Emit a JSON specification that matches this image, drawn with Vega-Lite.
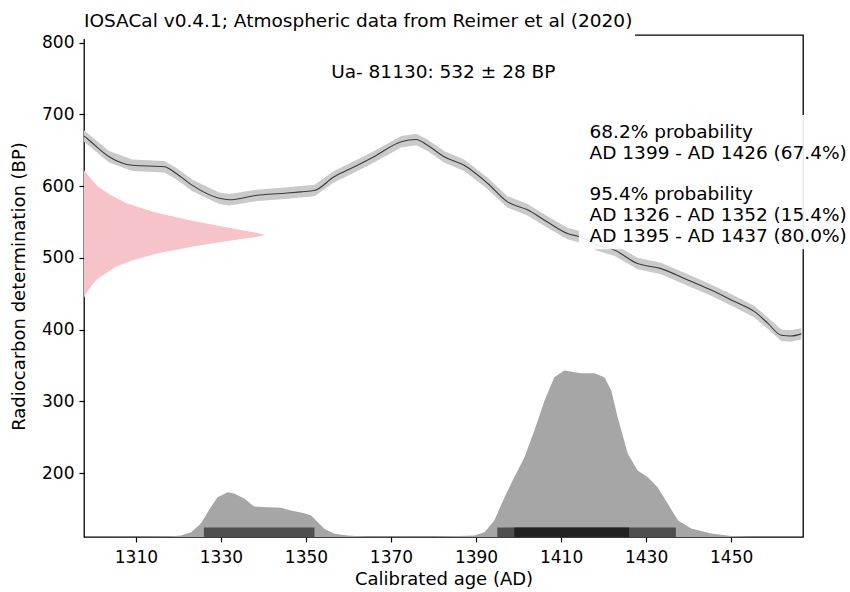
{
  "$schema": "https://vega.github.io/schema/vega-lite/v6.json",
  "width": 719,
  "height": 502,
  "autosize": {"type": "none"},
  "padding": {"left": 84, "top": 35, "right": 47, "bottom": 55},
  "background": "white",
  "config": {
    "view": {"stroke": "#000000", "strokeWidth": 1.3},
    "font": "DejaVu Sans",
    "axis": {
      "labelFont": "DejaVu Sans", "labelFontSize": 17, "labelColor": "#000000",
      "tickColor": "#000000", "tickSize": 5, "tickWidth": 1.2, "domain": false, "grid": false,
      "titleFont": "DejaVu Sans", "titleFontSize": 18, "titleFontWeight": "normal", "titleColor": "#000000"
    }
  },
  "datasets": {
    "curve": [
      {"year": 1297.8, "bp": 670, "lo": 662, "hi": 678},
      {"year": 1299, "bp": 664, "lo": 656, "hi": 672},
      {"year": 1303.7, "bp": 641, "lo": 633, "hi": 649},
      {"year": 1309.2, "bp": 629, "lo": 621, "hi": 637},
      {"year": 1316.7, "bp": 627, "lo": 619, "hi": 635},
      {"year": 1319.4, "bp": 618, "lo": 610, "hi": 626},
      {"year": 1323.3, "bp": 601, "lo": 593, "hi": 609},
      {"year": 1329.6, "bp": 583, "lo": 575, "hi": 591},
      {"year": 1332, "bp": 581, "lo": 573, "hi": 589},
      {"year": 1338.2, "bp": 587, "lo": 579, "hi": 595},
      {"year": 1345, "bp": 590, "lo": 582, "hi": 598},
      {"year": 1348.8, "bp": 592, "lo": 584, "hi": 600},
      {"year": 1352, "bp": 594, "lo": 586, "hi": 602},
      {"year": 1356.6, "bp": 613, "lo": 605, "hi": 621},
      {"year": 1361.4, "bp": 627, "lo": 619, "hi": 635},
      {"year": 1366, "bp": 641, "lo": 633, "hi": 649},
      {"year": 1372.4, "bp": 662, "lo": 654, "hi": 670},
      {"year": 1375.9, "bp": 665, "lo": 657, "hi": 673},
      {"year": 1378.6, "bp": 657, "lo": 649, "hi": 665},
      {"year": 1382.5, "bp": 641, "lo": 633, "hi": 649},
      {"year": 1387.2, "bp": 629, "lo": 621, "hi": 637},
      {"year": 1392.7, "bp": 604, "lo": 596, "hi": 612},
      {"year": 1397.4, "bp": 578, "lo": 570, "hi": 586},
      {"year": 1402.1, "bp": 567, "lo": 559, "hi": 575},
      {"year": 1406.8, "bp": 550, "lo": 542, "hi": 558},
      {"year": 1411.5, "bp": 534, "lo": 526, "hi": 542},
      {"year": 1414.6, "bp": 529, "lo": 521, "hi": 537},
      {"year": 1418.5, "bp": 518, "lo": 510, "hi": 526},
      {"year": 1422.5, "bp": 511, "lo": 503, "hi": 519},
      {"year": 1428, "bp": 492, "lo": 484, "hi": 500},
      {"year": 1433.5, "bp": 485, "lo": 477, "hi": 493},
      {"year": 1439.8, "bp": 469, "lo": 461, "hi": 477},
      {"year": 1445.3, "bp": 455, "lo": 447, "hi": 463},
      {"year": 1450.8, "bp": 439, "lo": 431, "hi": 447},
      {"year": 1455.5, "bp": 425, "lo": 417, "hi": 433},
      {"year": 1458.6, "bp": 409, "lo": 401, "hi": 417},
      {"year": 1461.8, "bp": 392, "lo": 384, "hi": 400},
      {"year": 1464, "bp": 391, "lo": 383, "hi": 399},
      {"year": 1466.5, "bp": 394, "lo": 386, "hi": 402}
    ],
    "measured": [
      {"bp": 444, "density": 0},
      {"bp": 450, "density": 0.011},
      {"bp": 460, "density": 0.039},
      {"bp": 469, "density": 0.067},
      {"bp": 478, "density": 0.117},
      {"bp": 488, "density": 0.179},
      {"bp": 497, "density": 0.274},
      {"bp": 506, "density": 0.402},
      {"bp": 516, "density": 0.609},
      {"bp": 525, "density": 0.83},
      {"bp": 529, "density": 0.95},
      {"bp": 532, "density": 1.0},
      {"bp": 535, "density": 0.95},
      {"bp": 543, "density": 0.777},
      {"bp": 553, "density": 0.57},
      {"bp": 564, "density": 0.385},
      {"bp": 576, "density": 0.235},
      {"bp": 588, "density": 0.145},
      {"bp": 599, "density": 0.078},
      {"bp": 610, "density": 0.039},
      {"bp": 622, "density": 0}
    ],
    "calibrated": [
      {"year": 1297.8, "p": 0},
      {"year": 1310, "p": 0},
      {"year": 1318, "p": 0.003},
      {"year": 1320.6, "p": 0.009},
      {"year": 1323, "p": 0.029},
      {"year": 1325.3, "p": 0.081},
      {"year": 1327.6, "p": 0.179},
      {"year": 1329.2, "p": 0.239},
      {"year": 1331.6, "p": 0.269},
      {"year": 1333.1, "p": 0.261},
      {"year": 1335.5, "p": 0.231},
      {"year": 1337.8, "p": 0.183},
      {"year": 1341, "p": 0.179},
      {"year": 1344.1, "p": 0.175},
      {"year": 1346.5, "p": 0.159},
      {"year": 1349.6, "p": 0.143},
      {"year": 1351.2, "p": 0.129},
      {"year": 1352.8, "p": 0.089},
      {"year": 1354.3, "p": 0.049},
      {"year": 1356.7, "p": 0.019},
      {"year": 1359.8, "p": 0.009},
      {"year": 1365, "p": 0.002},
      {"year": 1380, "p": 0.001},
      {"year": 1389.6, "p": 0.009},
      {"year": 1392, "p": 0.029},
      {"year": 1394.3, "p": 0.099},
      {"year": 1396.7, "p": 0.239},
      {"year": 1399, "p": 0.359},
      {"year": 1401.4, "p": 0.479},
      {"year": 1403.7, "p": 0.638},
      {"year": 1406.1, "p": 0.819},
      {"year": 1408.4, "p": 0.959},
      {"year": 1410.8, "p": 1.0},
      {"year": 1414.7, "p": 0.984},
      {"year": 1417.8, "p": 0.984},
      {"year": 1420.2, "p": 0.959},
      {"year": 1421.8, "p": 0.88},
      {"year": 1423.3, "p": 0.719},
      {"year": 1425.7, "p": 0.5},
      {"year": 1428, "p": 0.399},
      {"year": 1430.4, "p": 0.359},
      {"year": 1432.7, "p": 0.299},
      {"year": 1435.1, "p": 0.199},
      {"year": 1437.5, "p": 0.099},
      {"year": 1440.6, "p": 0.051},
      {"year": 1445.3, "p": 0.021},
      {"year": 1450, "p": 0.006},
      {"year": 1455, "p": 0},
      {"year": 1466.9, "p": 0}
    ],
    "ranges": [
      {"start": 1326, "end": 1352, "level": "95.4%"},
      {"start": 1395, "end": 1437, "level": "95.4%"},
      {"start": 1399, "end": 1426, "level": "68.2%"}
    ]
  },
  "resolve": {"scale": {"x": "independent", "y": "independent"}},
  "layer": [
    {
      "data": {"name": "measured"},
      "mark": {"type": "area", "orient": "horizontal", "color": "#f6c3c9", "opacity": 1},
      "encoding": {
        "y": {"field": "bp", "type": "quantitative", "scale": {"domain": [110.8, 810.7], "nice": false, "zero": false}, "axis": null},
        "x": {"field": "density", "type": "quantitative", "scale": {"domain": [0, 3.97], "nice": false}, "axis": null}
      }
    },
    {
      "layer": [
        {
          "data": {"name": "calibrated"},
          "mark": {"type": "area", "color": "#a6a6a6", "opacity": 1},
          "encoding": {
            "x": {"field": "year", "type": "quantitative", "scale": {"domain": [1297.8, 1466.9], "nice": false, "zero": false}, "axis": null},
            "y": {"field": "p", "type": "quantitative", "scale": {"domain": [0, 3.015], "nice": false}, "axis": null}
          }
        },
        {
          "data": {"name": "ranges"},
          "mark": {"type": "rect"},
          "encoding": {
            "x": {"field": "start", "type": "quantitative"},
            "x2": {"field": "end"},
            "y": {"datum": 0},
            "y2": {"datum": 0.0565},
            "color": {"field": "level", "type": "nominal", "scale": {"domain": ["95.4%", "68.2%"], "range": ["#4f4f4f", "#1f2325"]}, "legend": null}
          }
        }
      ]
    },
    {
      "layer": [
        {
          "data": {"name": "curve"},
          "mark": {"type": "area", "color": "#cacaca", "opacity": 1},
          "encoding": {
            "x": {"field": "year", "type": "quantitative", "scale": {"domain": [1297.8, 1466.9], "nice": false, "zero": false},
              "axis": {"orient": "bottom", "values": [1310, 1330, 1350, 1370, 1390, 1410, 1430, 1450], "format": "d", "title": "Calibrated age (AD)", "labelPadding": 7, "titlePadding": 5}},
            "y": {"field": "lo", "type": "quantitative", "scale": {"domain": [110.8, 810.7], "nice": false, "zero": false},
              "axis": {"orient": "left", "values": [200, 300, 400, 500, 600, 700, 800], "title": "Radiocarbon determination (BP)", "labelPadding": 5, "titlePadding": 13}},
            "y2": {"field": "hi"}
          }
        },
        {
          "data": {"name": "curve"},
          "mark": {"type": "line", "color": "#3a3a3a", "strokeWidth": 1.1, "interpolate": "monotone"},
          "encoding": {
            "x": {"field": "year", "type": "quantitative"},
            "y": {"field": "bp", "type": "quantitative"}
          }
        },
        {
          "data": {"values": [{}]},
          "mark": {"type": "rect", "color": "white", "opacity": 0.9},
          "encoding": {
            "x": {"datum": 1414.2}, "x2": {"datum": 1490},
            "y": {"datum": 512}, "y2": {"datum": 699}
          }
        },
        {
          "data": {"values": [{}]},
          "mark": {"type": "rect", "color": "white", "opacity": 1},
          "encoding": {
            "x": {"datum": 1297.5}, "x2": {"datum": 1427.4},
            "y": {"datum": 805}, "y2": {"datum": 862}
          }
        },
        {
          "data": {"values": [{}]},
          "mark": {"type": "text", "text": "IOSACal v0.4.1; Atmospheric data from Reimer et al (2020)", "align": "left", "baseline": "middle", "fontSize": 18.5, "font": "DejaVu Sans", "color": "#000000"},
          "encoding": {"x": {"datum": 1297.8}, "y": {"datum": 830}}
        },
        {
          "data": {"values": [{}]},
          "mark": {"type": "text", "text": "Ua- 81130: 532 ± 28 BP", "align": "center", "baseline": "middle", "fontSize": 18.5, "font": "DejaVu Sans", "color": "#000000"},
          "encoding": {"x": {"datum": 1382.3}, "y": {"datum": 759.1}}
        },
        {
          "data": {"values": [{}]},
          "mark": {"type": "text", "text": "68.2% probability", "align": "left", "baseline": "middle", "fontSize": 18.5, "font": "DejaVu Sans", "color": "#000000"},
          "encoding": {"x": {"datum": 1416.7}, "y": {"datum": 675.5}}
        },
        {
          "data": {"values": [{}]},
          "mark": {"type": "text", "text": "AD 1399 - AD 1426 (67.4%)", "align": "left", "baseline": "middle", "fontSize": 18.5, "font": "DejaVu Sans", "color": "#000000"},
          "encoding": {"x": {"datum": 1416.7}, "y": {"datum": 646.2}}
        },
        {
          "data": {"values": [{}]},
          "mark": {"type": "text", "text": "95.4% probability", "align": "left", "baseline": "middle", "fontSize": 18.5, "font": "DejaVu Sans", "color": "#000000"},
          "encoding": {"x": {"datum": 1416.7}, "y": {"datum": 589.0}}
        },
        {
          "data": {"values": [{}]},
          "mark": {"type": "text", "text": "AD 1326 - AD 1352 (15.4%)", "align": "left", "baseline": "middle", "fontSize": 18.5, "font": "DejaVu Sans", "color": "#000000"},
          "encoding": {"x": {"datum": 1416.7}, "y": {"datum": 559.8}}
        },
        {
          "data": {"values": [{}]},
          "mark": {"type": "text", "text": "AD 1395 - AD 1437 (80.0%)", "align": "left", "baseline": "middle", "fontSize": 18.5, "font": "DejaVu Sans", "color": "#000000"},
          "encoding": {"x": {"datum": 1416.7}, "y": {"datum": 530.5}}
        }
      ]
    }
  ]
}
